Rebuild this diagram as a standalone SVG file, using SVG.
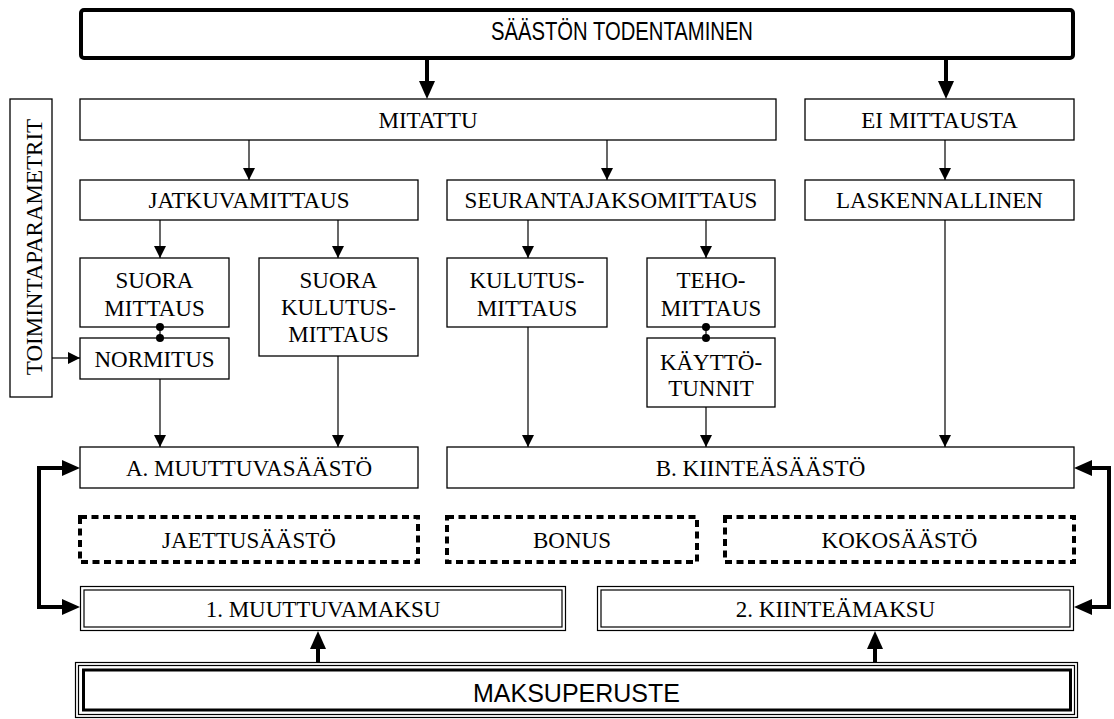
<svg xmlns="http://www.w3.org/2000/svg" width="1114" height="719" viewBox="0 0 1114 719">
<style>
.b{fill:#fff;stroke:#000;stroke-width:1.3}
.d{fill:none;stroke:#000;stroke-width:4;stroke-dasharray:7 4.5}
.t{font-family:"Liberation Serif","Times New Roman",serif;font-size:23px;text-anchor:middle;fill:#000}
.h{font-family:"Liberation Sans",Arial,sans-serif;font-size:25px;text-anchor:middle;fill:#000}
.c{fill:none;stroke:#000;stroke-width:1.2}
.k{fill:none;stroke:#000;stroke-width:4}
</style>
<defs>
<marker id="a" markerUnits="userSpaceOnUse" markerWidth="12" markerHeight="12" refX="12" refY="6" orient="auto"><path d="M0,0 L12,6 L0,12 z" fill="#000"/></marker>
<marker id="A" markerUnits="userSpaceOnUse" markerWidth="18" markerHeight="16" refX="0" refY="8" orient="auto-start-reverse"><path d="M0,0 L18,8 L0,16 z" fill="#000"/></marker>
</defs>
<g id="n-top"><rect x="81" y="10" width="992" height="48" rx="3" fill="#fff" stroke="#000" stroke-width="4"/><text class="h" x="622" y="40" textLength="262" lengthAdjust="spacingAndGlyphs">SÄÄSTÖN TODENTAMINEN</text></g>
<g id="n-toim"><rect class="b" x="10" y="99" width="42" height="298"/><text class="t" x="42" y="247" transform="rotate(-90 42 247)">TOIMINTAPARAMETRIT</text></g>
<g id="n-mitattu"><rect class="b" x="80" y="99" width="696" height="41"/><text class="t" x="428" y="128">MITATTU</text></g>
<g id="n-eimitt"><rect class="b" x="805" y="99" width="269" height="41"/><text class="t" x="939.5" y="128">EI MITTAUSTA</text></g>
<g id="n-jatku"><rect class="b" x="80" y="180" width="338" height="40"/><text class="t" x="249" y="208">JATKUVAMITTAUS</text></g>
<g id="n-seur"><rect class="b" x="447" y="180" width="328" height="40"/><text class="t" x="611" y="208">SEURANTAJAKSOMITTAUS</text></g>
<g id="n-lask"><rect class="b" x="805" y="180" width="269" height="40"/><text class="t" x="939.5" y="208">LASKENNALLINEN</text></g>
<g id="n-suora"><rect class="b" x="80" y="258" width="149" height="69"/><text class="t" x="154.5" y="288">SUORA</text><text class="t" x="154.5" y="316">MITTAUS</text></g>
<g id="n-normitus"><rect class="b" x="80" y="338" width="149" height="41"/><text class="t" x="154.5" y="367">NORMITUS</text></g>
<g id="n-suorakul"><rect class="b" x="259" y="258" width="159" height="98"/><text class="t" x="338.5" y="288">SUORA</text><text class="t" x="338.5" y="315">KULUTUS-</text><text class="t" x="338.5" y="342">MITTAUS</text></g>
<g id="n-kulutus"><rect class="b" x="447" y="258" width="160" height="69"/><text class="t" x="527" y="288">KULUTUS-</text><text class="t" x="527" y="316">MITTAUS</text></g>
<g id="n-teho"><rect class="b" x="647" y="258" width="128" height="69"/><text class="t" x="711" y="288">TEHO-</text><text class="t" x="711" y="316">MITTAUS</text></g>
<g id="n-kaytto"><rect class="b" x="647" y="338" width="128" height="69"/><text class="t" x="711" y="370">KÄYTTÖ-</text><text class="t" x="711" y="396">TUNNIT</text></g>
<g id="n-a"><rect class="b" x="80" y="447" width="338" height="41"/><text class="t" x="249" y="476">A. MUUTTUVASÄÄSTÖ</text></g>
<g id="n-b"><rect class="b" x="447" y="447" width="627" height="41"/><text class="t" x="760.5" y="476">B. KIINTEÄSÄÄSTÖ</text></g>
<g id="n-jaettu"><rect class="d" x="80" y="517" width="338" height="45"/><text class="t" x="249" y="548">JAETTUSÄÄSTÖ</text></g>
<g id="n-bonus"><rect class="d" x="447" y="517" width="250" height="45"/><text class="t" x="572" y="548">BONUS</text></g>
<g id="n-koko"><rect class="d" x="725" y="517" width="349" height="45"/><text class="t" x="899.5" y="548">KOKOSÄÄSTÖ</text></g>
<g id="n-m1"><rect class="c" x="80.5" y="586.5" width="485" height="44"/><rect class="c" x="84" y="590" width="478" height="37"/><text class="t" x="323" y="617">1. MUUTTUVAMAKSU</text></g>
<g id="n-m2"><rect class="c" x="597.5" y="586.5" width="476" height="44"/><rect class="c" x="601" y="590" width="469" height="37"/><text class="t" x="835.5" y="617">2. KIINTEÄMAKSU</text></g>
<g id="n-maksu"><rect class="c" x="75.5" y="662.5" width="1002" height="55"/><rect class="c" x="78.5" y="665.5" width="996" height="49"/><rect fill="none" stroke="#000" stroke-width="3" x="83.5" y="670" width="987" height="40"/><text class="h" x="576.5" y="702">MAKSUPERUSTE</text></g>
<g id="connectors" stroke="#000" fill="none">
<line class="k" x1="427" y1="60" x2="427" y2="81" marker-end="url(#A)"/>
<line class="k" x1="946" y1="60" x2="946" y2="81" marker-end="url(#A)"/>
<line x1="249" y1="140" x2="249" y2="180" stroke-width="1.2" marker-end="url(#a)"/>
<line x1="607" y1="140" x2="607" y2="180" stroke-width="1.2" marker-end="url(#a)"/>
<line x1="945" y1="140" x2="945" y2="180" stroke-width="1.2" marker-end="url(#a)"/>
<line x1="160" y1="220" x2="160" y2="258" stroke-width="1.2" marker-end="url(#a)"/>
<line x1="338" y1="220" x2="338" y2="258" stroke-width="1.2" marker-end="url(#a)"/>
<line x1="528" y1="220" x2="528" y2="258" stroke-width="1.2" marker-end="url(#a)"/>
<line x1="706" y1="220" x2="706" y2="258" stroke-width="1.2" marker-end="url(#a)"/>
<line x1="52" y1="358" x2="80" y2="358" stroke-width="1.2" marker-end="url(#a)"/>
<line x1="160" y1="379" x2="160" y2="447" stroke-width="1.2" marker-end="url(#a)"/>
<line x1="338" y1="356" x2="338" y2="447" stroke-width="1.2" marker-end="url(#a)"/>
<line x1="528" y1="327" x2="528" y2="447" stroke-width="1.2" marker-end="url(#a)"/>
<line x1="706" y1="407" x2="706" y2="447" stroke-width="1.2" marker-end="url(#a)"/>
<line x1="945" y1="220" x2="945" y2="447" stroke-width="1.2" marker-end="url(#a)"/>
<line x1="160" y1="327" x2="160" y2="338" stroke-width="1.2"/>
<circle cx="160" cy="327" r="4" fill="#000" stroke="none"/>
<circle cx="160" cy="338" r="4" fill="#000" stroke="none"/>
<line x1="706" y1="327" x2="706" y2="338" stroke-width="1.2"/>
<circle cx="706" cy="327" r="4" fill="#000" stroke="none"/>
<circle cx="706" cy="338" r="4" fill="#000" stroke="none"/>
<path class="k" d="M62,468 H39 V607 H62" marker-start="url(#A)" marker-end="url(#A)"/>
<path class="k" d="M1092,468 H1109 V607 H1092" marker-start="url(#A)" marker-end="url(#A)"/>
<line class="k" x1="318" y1="662" x2="318" y2="649" marker-end="url(#A)"/>
<line class="k" x1="875" y1="662" x2="875" y2="649" marker-end="url(#A)"/>
</g>
</svg>
